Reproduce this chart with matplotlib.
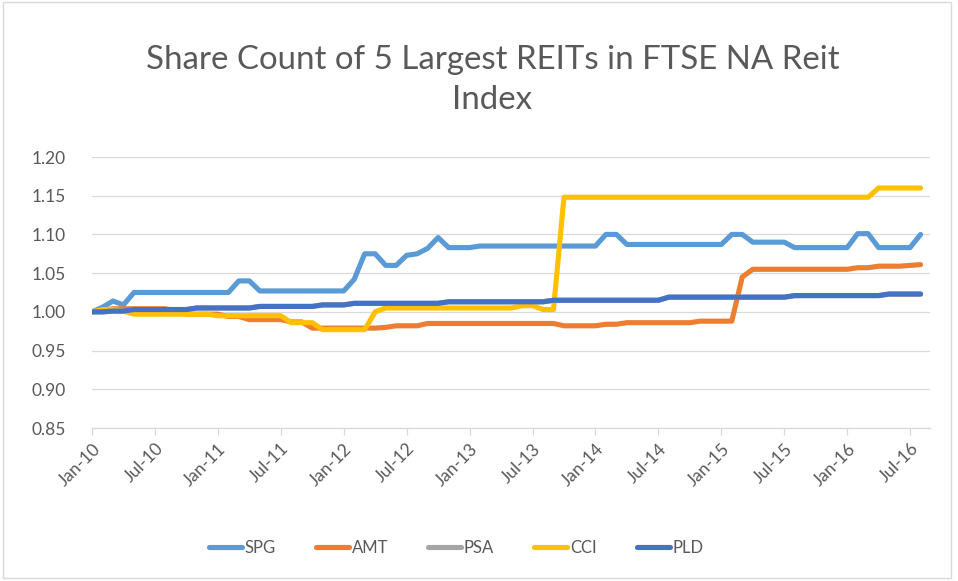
import numpy as np
import matplotlib
matplotlib.use('Agg')
import matplotlib.pyplot as plt
from matplotlib.patches import Rectangle

# monthly share counts, indexed to Jan-10 = 1.00 (Jan-10 .. Aug-16)
spg = [1.000, 1.006, 1.014, 1.009, 1.025, 1.025, 1.025, 1.025, 1.025, 1.025, 1.025, 1.025,
       1.025, 1.025, 1.040, 1.040, 1.027, 1.027, 1.027, 1.027, 1.027, 1.027, 1.027, 1.027,
       1.027, 1.042, 1.075, 1.075, 1.060, 1.060, 1.073, 1.075, 1.082, 1.096, 1.083, 1.083,
       1.083, 1.085, 1.085, 1.085, 1.085, 1.085, 1.085, 1.085, 1.085, 1.085, 1.085, 1.085,
       1.085, 1.100, 1.100, 1.087, 1.087, 1.087, 1.087, 1.087, 1.087, 1.087, 1.087, 1.087,
       1.087, 1.100, 1.100, 1.090, 1.090, 1.090, 1.090, 1.083, 1.083, 1.083, 1.083, 1.083,
       1.083, 1.101, 1.101, 1.083, 1.083, 1.083, 1.083, 1.100]

amt = [1.000, 1.002, 1.004, 1.004, 1.004, 1.004, 1.004, 1.004, 1.001, 0.997, 0.997, 0.997,
       0.997, 0.994, 0.994, 0.990, 0.990, 0.990, 0.990, 0.987, 0.987, 0.979, 0.979, 0.979,
       0.979, 0.979, 0.979, 0.979, 0.980, 0.982, 0.982, 0.982, 0.985, 0.985, 0.985, 0.985,
       0.985, 0.985, 0.985, 0.985, 0.985, 0.985, 0.985, 0.985, 0.985, 0.982, 0.982, 0.982,
       0.982, 0.984, 0.984, 0.986, 0.986, 0.986, 0.986, 0.986, 0.986, 0.986, 0.988, 0.988,
       0.988, 0.988, 1.045, 1.055, 1.055, 1.055, 1.055, 1.055, 1.055, 1.055, 1.055, 1.055,
       1.055, 1.057, 1.057, 1.059, 1.059, 1.059, 1.060, 1.061]

# PSA is not visible in the chart (sits under PLD)
psa = [1.000, 1.000, 1.001, 1.001, 1.003, 1.003, 1.003, 1.003, 1.003, 1.003, 1.005, 1.005,
       1.005, 1.005, 1.005, 1.005, 1.007, 1.007, 1.007, 1.007, 1.007, 1.007, 1.009, 1.009,
       1.009, 1.011, 1.011, 1.011, 1.011, 1.011, 1.011, 1.011, 1.011, 1.011, 1.013, 1.013,
       1.013, 1.013, 1.013, 1.013, 1.013, 1.013, 1.013, 1.013, 1.015, 1.015, 1.015, 1.015,
       1.015, 1.015, 1.015, 1.015, 1.015, 1.015, 1.015, 1.019, 1.019, 1.019, 1.019, 1.019,
       1.019, 1.019, 1.019, 1.019, 1.019, 1.019, 1.019, 1.021, 1.021, 1.021, 1.021, 1.021,
       1.021, 1.021, 1.021, 1.021, 1.023, 1.023, 1.023, 1.023]

cci = [1.000, 1.003, 1.003, 1.001, 0.997, 0.997, 0.997, 0.997, 0.997, 0.997, 0.997, 0.997,
       0.995, 0.995, 0.995, 0.995, 0.995, 0.995, 0.995, 0.986, 0.986, 0.986, 0.977, 0.977,
       0.977, 0.977, 0.977, 1.000, 1.005, 1.005, 1.005, 1.005, 1.005, 1.005, 1.005, 1.005,
       1.005, 1.005, 1.005, 1.005, 1.005, 1.008, 1.008, 1.003, 1.003, 1.148, 1.148, 1.148,
       1.148, 1.148, 1.148, 1.148, 1.148, 1.148, 1.148, 1.148, 1.148, 1.148, 1.148, 1.148,
       1.148, 1.148, 1.148, 1.148, 1.148, 1.148, 1.148, 1.148, 1.148, 1.148, 1.148, 1.148,
       1.148, 1.148, 1.148, 1.160, 1.160, 1.160, 1.160, 1.160]

pld = [1.000, 1.000, 1.001, 1.001, 1.003, 1.003, 1.003, 1.003, 1.003, 1.003, 1.005, 1.005,
       1.005, 1.005, 1.005, 1.005, 1.007, 1.007, 1.007, 1.007, 1.007, 1.007, 1.009, 1.009,
       1.009, 1.011, 1.011, 1.011, 1.011, 1.011, 1.011, 1.011, 1.011, 1.011, 1.013, 1.013,
       1.013, 1.013, 1.013, 1.013, 1.013, 1.013, 1.013, 1.013, 1.015, 1.015, 1.015, 1.015,
       1.015, 1.015, 1.015, 1.015, 1.015, 1.015, 1.015, 1.019, 1.019, 1.019, 1.019, 1.019,
       1.019, 1.019, 1.019, 1.019, 1.019, 1.019, 1.019, 1.021, 1.021, 1.021, 1.021, 1.021,
       1.021, 1.021, 1.021, 1.021, 1.023, 1.023, 1.023, 1.023]

names = ['SPG', 'AMT', 'PSA', 'CCI', 'PLD']
colors = ['#5B9BD5', '#ED7D31', '#A5A5A5', '#FFC000', '#4472C4']
tick_labels = ['Jan-10', 'Jul-10', 'Jan-11', 'Jul-11', 'Jan-12', 'Jul-12', 'Jan-13',
               'Jul-13', 'Jan-14', 'Jul-14', 'Jan-15', 'Jul-15', 'Jan-16', 'Jul-16']

plt.rcParams['font.family'] = ['Lato', 'DejaVu Sans']
grey_txt = '#595959'
grey_line = '#D9D9D9'

W, H = 958, 581
fig = plt.figure(figsize=(W / 100, H / 100), dpi=100)
fig.patches.append(Rectangle((3 / W, 3 / H), 948 / W, 576 / H, transform=fig.transFigure,
                             fill=False, edgecolor=grey_line, lw=1))

ax = fig.add_axes([92 / W, 1 - 428 / H, (930 - 92) / W, (428 - 157) / H])

x = np.arange(len(spg))
for name, vals, col in zip(names, [spg, amt, psa, cci, pld], colors):
    ax.plot(x, vals, color=col, lw=3.7, label=name,
            solid_joinstyle='round', solid_capstyle='round')

ax.set_xlim(0, 79.9)
ax.set_ylim(0.85, 1.20)
ax.set_yticks(np.arange(0.85, 1.2001, 0.05))
ax.set_yticklabels(['%.2f' % v for v in np.arange(0.85, 1.2001, 0.05)])
ax.set_xticks(np.arange(0, len(tick_labels) * 6, 6))
ax.set_xticklabels(tick_labels, rotation=45, ha='right', va='top', rotation_mode='anchor')

ax.yaxis.grid(True, color=grey_line, lw=0.9)
ax.set_axisbelow(True)
for s in ['top', 'right', 'left']:
    ax.spines[s].set_visible(False)
ax.spines['bottom'].set_color(grey_line)
ax.spines['bottom'].set_linewidth(0.9)
ax.tick_params(axis='y', length=0, pad=19, labelsize=12.5, labelcolor=grey_txt)
ax.tick_params(axis='x', length=5, width=0.9, color=grey_line, pad=4,
               labelsize=12.5, labelcolor=grey_txt)

fig.text(0.514, 1 - 80 / H, 'Share Count of 5 Largest REITs in FTSE NA Reit\nIndex',
         ha='center', va='center', fontsize=23.8, color=grey_txt, linespacing=1.38)

fig.legend(loc='center', bbox_to_anchor=(456 / W, 1 - 548 / H), ncol=5, frameon=False,
           fontsize=12, handlelength=2.0, handletextpad=0.15, columnspacing=2.4,
           labelcolor=grey_txt)

fig.savefig('out.png', dpi=100)
